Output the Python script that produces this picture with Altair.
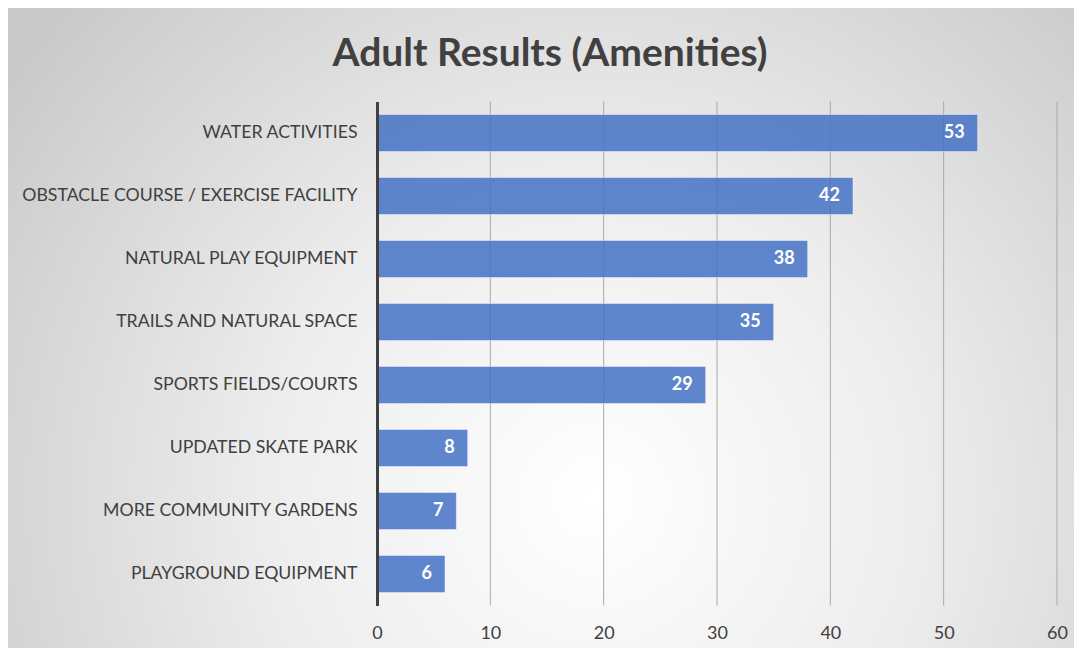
import altair as alt
import pandas as pd

title_text = "Adult Results (Amenities)"
categories = [
    "WATER ACTIVITIES",
    "OBSTACLE COURSE / EXERCISE FACILITY",
    "NATURAL PLAY EQUIPMENT",
    "TRAILS AND NATURAL SPACE",
    "SPORTS FIELDS/COURTS",
    "UPDATED SKATE PARK",
    "MORE COMMUNITY GARDENS",
    "PLAYGROUND EQUIPMENT",
]
values = [53, 42, 38, 35, 29, 8, 7, 6]
x_ticks = [0, 10, 20, 30, 40, 50, 60]
grid_ticks = [10, 20, 30, 40, 50, 60]

FONT = "Lato"
W, H = 680, 504
PAD = {"left": 369, "top": 93.5, "right": 17, "bottom": 42.5}

df = pd.DataFrame({"category": categories, "value": values})
grid_df = pd.DataFrame({"value": grid_ticks})
one = pd.DataFrame({"t": [title_text]})

xscale = alt.Scale(domain=[0, 60], nice=False, zero=True)
xaxis = alt.Axis(
    title=None, values=x_ticks, ticks=False, grid=False, domain=False,
    labelFontSize=18, labelFont=FONT, labelColor="#404040", labelPadding=19,
    labelFlush=False, labelOverlap=False, zindex=1,
)

bg = alt.Chart(one).mark_rect(
    color=alt.Gradient(
        gradient="radial",
        x1=0.55, y1=0.66, r1=0.0,
        x2=0.55, y2=0.66, r2=0.68,
        stops=[
            alt.GradientStop(offset=0, color="#ffffff"),
            alt.GradientStop(offset=0.45, color="#ededed"),
            alt.GradientStop(offset=1, color="#c9c9c9"),
        ],
    )
).encode(
    x=alt.value(-PAD["left"]),
    x2=alt.value(W + PAD["right"]),
    y=alt.value(-PAD["top"]),
    y2=alt.value(H + PAD["bottom"]),
)

grid = alt.Chart(grid_df).mark_rule(color="#a9a9a9", strokeWidth=1).encode(
    x=alt.X("value:Q", scale=xscale, axis=xaxis),
    y=alt.value(0),
    y2=alt.value(H),
)

ysc = alt.Scale(domain=categories, paddingInner=0.41, paddingOuter=0.205)
yaxis = alt.Axis(
    title=None, ticks=False, grid=False, labelFontSize=17.7, labelFont=FONT,
    labelColor="#404040", labelPadding=20, labelLimit=400,
    domainColor="#404040", domainWidth=3, zindex=1,
)

bars = alt.Chart(df).mark_bar(
    color="#4472C4", fillOpacity=0.85, stroke="#ffffff", strokeOpacity=0.45, strokeWidth=1
).encode(
    y=alt.Y("category:N", sort=categories, scale=ysc, axis=yaxis),
    x=alt.X("value:Q", scale=xscale, axis=xaxis),
)

labels = alt.Chart(df).mark_text(
    align="right", baseline="middle", dx=-13, font=FONT, fontSize=18,
    fontWeight="bold", color="#ffffff",
).encode(
    y=alt.Y("category:N", sort=categories, scale=ysc, axis=yaxis),
    x=alt.X("value:Q", scale=xscale, axis=xaxis),
    text=alt.Text("value:Q"),
)

title = alt.Chart(one).mark_text(
    align="center", baseline="middle", font=FONT, fontSize=39,
    fontWeight="bold", color="#404040",
).encode(
    x=alt.value(173), y=alt.value(-48), text="t:N"
)

chart = alt.layer(bg, grid, bars, labels, title).properties(
    width=W, height=H, padding=PAD,
    autosize=alt.AutoSizeParams(type="none"),
).configure_view(stroke=None)

chart.save("out.html", embed_options={"renderer": "svg", "actions": False})
